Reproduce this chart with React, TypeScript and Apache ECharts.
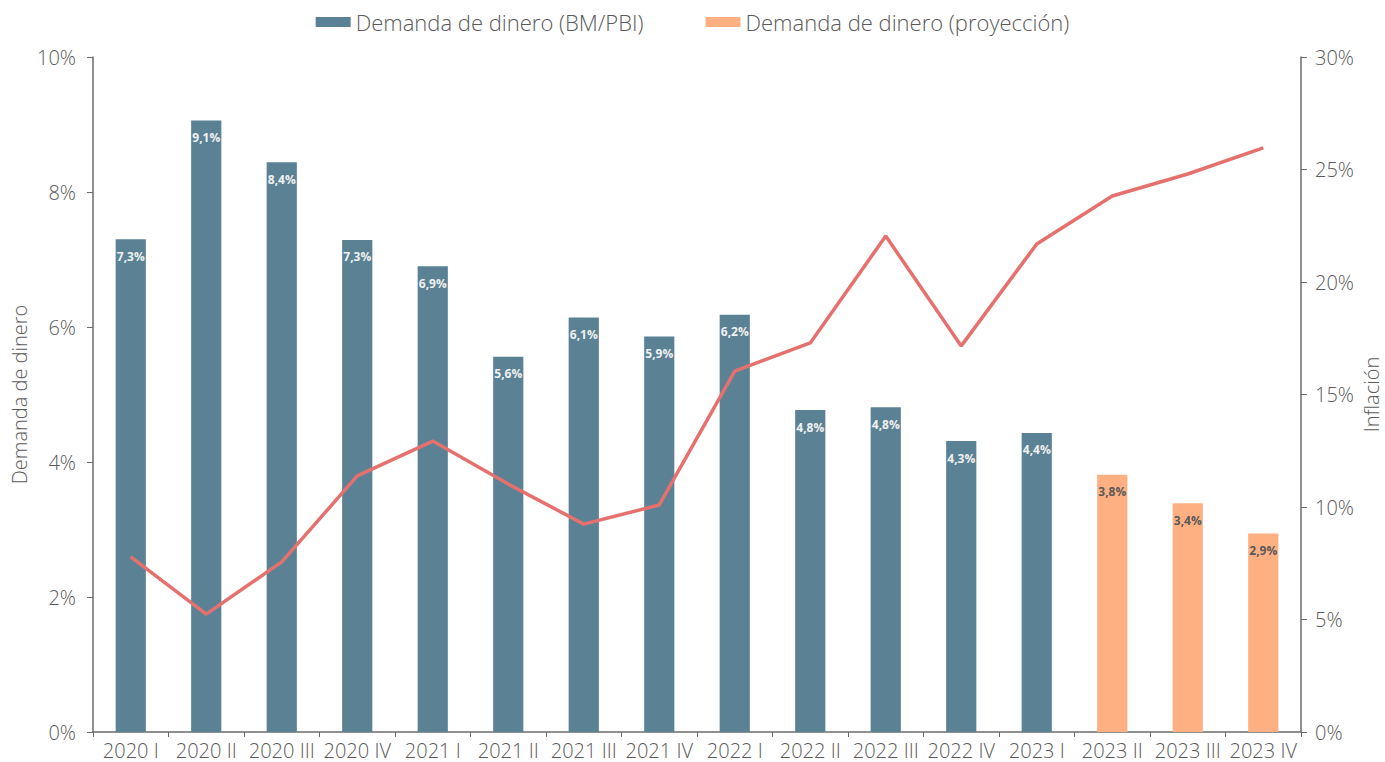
import React, { useEffect, useRef } from "react";
import * as echarts from "echarts";

const categories = [
  "2020 I", "2020 II", "2020 III", "2020 IV",
  "2021 I", "2021 II", "2021 III", "2021 IV",
  "2022 I", "2022 II", "2022 III", "2022 IV",
  "2023 I", "2023 II", "2023 III", "2023 IV",
];

const demandaObservada: (number | null)[] = [
  7.3, 9.06, 8.44, 7.29, 6.9, 5.56, 6.14, 5.86,
  6.18, 4.77, 4.81, 4.31, 4.43, null, null, null,
];

const demandaProyeccion: (number | null)[] = [
  null, null, null, null, null, null, null, null,
  null, null, null, null, null, 3.81, 3.39, 2.94,
];

const inflacion = [
  7.78, 5.24, 7.56, 11.38, 12.93, 11.02, 9.24, 10.09,
  16.04, 17.29, 22.04, 17.16, 21.69, 23.82, 24.8, 25.96,
];

const FONT = "'Open Sans', sans-serif";
const AXIS_COLOR = "#6b6b6b";
const TEXT_COLOR = "#595959";

const fmt = (v: number) => v.toFixed(1).replace(".", ",") + "%";

export default function App() {
  const ref = useRef<HTMLDivElement>(null);

  useEffect(() => {
    if (!ref.current) return;
    const chart = echarts.init(ref.current, undefined, { renderer: "svg" });
    const axisText = { fontSize: 20, color: TEXT_COLOR, fontFamily: FONT, fontWeight: 300 };
    chart.setOption({
      animation: false,
      textStyle: { fontFamily: FONT },
      legend: {
        top: 6,
        left: "center",
        itemWidth: 35,
        itemHeight: 10,
        itemGap: 62,
        icon: "rect",
        textStyle: { ...axisText, fontSize: 22 },
        data: ["Demanda de dinero (BM/PBI)", "Demanda de dinero (proyección)"],
      },
      grid: { left: 93, right: 84, top: 57, bottom: 30, containLabel: false, outerBoundsMode: "none" },
      xAxis: {
        type: "category",
        data: categories,
        axisLine: { lineStyle: { color: AXIS_COLOR, width: 1.5 } },
        axisTick: { show: true, length: 5, lineStyle: { color: AXIS_COLOR } },
        axisLabel: { ...axisText, margin: 8, interval: 0 },
      },
      yAxis: [
        {
          type: "value",
          min: 0,
          max: 10,
          interval: 2,
          name: "Demanda de dinero",
          nameLocation: "middle",
          nameGap: 64,
          nameMoveOverlap: false,
          nameTextStyle: { ...axisText },
          axisLine: { show: true, lineStyle: { color: AXIS_COLOR, width: 1.5 } },
          axisTick: { show: true, length: 6, lineStyle: { color: AXIS_COLOR } },
          splitLine: { show: false },
          axisLabel: { ...axisText, margin: 17, formatter: "{value}%" },
        },
        {
          type: "value",
          min: 0,
          max: 30,
          interval: 5,
          name: "Inflación",
          nameLocation: "middle",
          nameGap: 60,
          nameMoveOverlap: false,
          nameTextStyle: { ...axisText },
          axisLine: { show: true, lineStyle: { color: AXIS_COLOR, width: 1.5 } },
          axisTick: { show: true, length: 6, lineStyle: { color: AXIS_COLOR } },
          splitLine: { show: false },
          axisLabel: { ...axisText, margin: 14, formatter: "{value}%" },
        },
      ],
      series: [
        {
          name: "Demanda de dinero (BM/PBI)",
          type: "bar",
          stack: "demanda",
          barWidth: "40%",
          data: demandaObservada,
          itemStyle: { color: "#5B8294" },
          label: {
            show: true,
            position: "insideTop",
            distance: 11,
            fontSize: 12,
            fontWeight: "bold",
            color: "#f0f0f0",
            fontFamily: FONT,
            formatter: (p: any) => fmt(p.value),
          },
        },
        {
          name: "Demanda de dinero (proyección)",
          type: "bar",
          stack: "demanda",
          barWidth: "40%",
          data: demandaProyeccion,
          itemStyle: { color: "#FFB082" },
          label: {
            show: true,
            position: "insideTop",
            distance: 11,
            fontSize: 12,
            fontWeight: "bold",
            color: "#595959",
            fontFamily: FONT,
            formatter: (p: any) => fmt(p.value),
          },
        },
        {
          name: "Inflación",
          type: "line",
          yAxisIndex: 1,
          data: inflacion,
          showSymbol: false,
          symbol: "none",
          lineStyle: { color: "#E5716F", width: 3.5 },
          itemStyle: { color: "#E5716F" },
          z: 5,
        },
      ],
    });
    return () => chart.dispose();
  }, []);

  return <div ref={ref} style={{ width: 1385, height: 762, position: "absolute", left: 0, top: 0 }} />;
}
